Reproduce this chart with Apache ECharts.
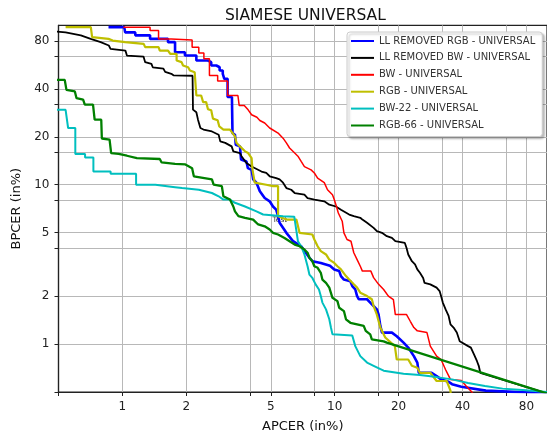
<!DOCTYPE html>
<html>
<head>
	<meta http-equiv="content-type" content="text/html;charset=utf-8">
	<title>SIAMESE UNIVERSAL</title>
	<style>
		html, body { margin:0; padding:0; background:#fff; }
		#chartcontainer { width:547px; height:438px; }
	</style>
	<script src="https://cdn.jsdelivr.net/npm/echarts@6/dist/echarts.min.js" type="text/javascript"></script>
</head>
<body>
<div id="chartcontainer"></div>
<script type="text/javascript">
	// series names (legend order)
	var seriesNames = ["LL REMOVED RGB - UNIVERSAL", "LL REMOVED BW - UNIVERSAL", "BW - UNIVERSAL",
		"RGB - UNIVERSAL", "BW-22 - UNIVERSAL", "RGB-66 - UNIVERSAL"];

	// tick values (in %)
	var labelTicks = [1, 2, 5, 10, 20, 40, 80];
	var gridTicks = [0.5, 1, 2, 4, 5, 8, 10, 16, 20, 32, 40, 64, 80];

	// [APCER, BPCER] points
	var llRgbPts = [[0.86,97.5],[1.02,97.5],[1.03,90.4],[1.15,90.4],[1.15,86.6],[1.35,86.6],[1.35,82.3],[1.64,82.3],
		[1.64,78.5],[1.77,78.5],[1.77,67.9],[1.97,67.9],[1.97,64.7],[2.23,64.7],[2.23,60.2],[2.53,60.2],[2.53,58.8],
		[2.62,58.8],[2.62,56],[2.77,56],[2.77,54.6],[2.87,54.6],[2.87,52.1],[2.97,52.1],[2.97,49.7],[3.02,49.7],
		[3.02,46.2],[3.13,46.2],[3.13,35.5],[3.28,35.5],[3.3,21.1],[3.39,20.6],[3.42,17.8],[3.58,17.4],[3.62,14.4],
		[3.84,14],[3.9,12.7],[4.06,12.4],[4.13,10.8],[4.28,10.3],[4.44,9.1],[4.68,8.25],[4.94,7.87],[5.12,7.3],
		[5.3,6.97],[5.41,6.35],[5.5,5.77],[5.92,4.99],[6.37,4.42],[6.95,4.11],[7.6,3.48],[7.85,3.31],[8.6,3.23],
		[8.7,3.16],[9.5,3.1],[9.95,2.94],[10.5,2.87],[10.7,2.67],[11.05,2.54],[11.85,2.48],[12.1,2.31],[12.5,2.2],
		[12.75,2.0],[13,1.91],[14.2,1.91],[14.7,1.82],[15.25,1.73],[15.8,1.65],[16.1,1.53],[16.4,1.3],[16.7,1.18],
		[18.6,1.18],[19.6,1.12],[21.1,1.02],[22.2,0.95],[23.6,0.84],[24.5,0.765],[24.9,0.66],[28.6,0.66],[30.2,0.63],
		[31.7,0.6],[34.4,0.58],[35.7,0.56],[39.5,0.54],[51.5,0.51],[100,0.49]];

	var llBwPts = [[0.48,91.7],[0.54,90.4],[0.55,88.3],[0.637,86.6],[0.649,84.4],[0.709,82.3],[0.722,80.3],[0.79,78.5],
		[0.804,76.6],[0.863,74.8],[0.879,71.3],[1.033,69.5],[1.05,64.7],[1.257,63.7],[1.28,58.8],[1.37,57.3],[1.39,54.6],
		[1.56,53.5],[1.59,51.1],[1.7,49.7],[1.74,48.6],[2.14,48.3],[2.15,29.6],[2.23,28.5],[2.27,25.6],[2.33,22.7],
		[2.41,22.2],[2.64,21.6],[2.84,20.6],[2.89,18.7],[3.05,18.3],[3.27,17.4],[3.33,16.2],[3.58,15.8],[3.64,15.1],
		[3.84,13.7],[4.06,13.0],[4.52,12.1],[4.76,11.85],[4.94,11.3],[5.3,11.0],[5.5,10.8],[5.71,10.3],[5.92,9.53],
		[6.24,9.3],[6.48,8.87],[7.2,8.66],[7.45,8.25],[8.02,8.07],[8.93,7.87],[9.43,7.5],[10.13,7.3],[10.7,6.97],
		[11.7,6.5],[12.3,6.35],[13.2,6.2],[13.5,6.04],[14.2,5.77],[15.25,5.36],[15.8,5.11],[16.7,4.99],[17.6,4.75],
		[18.6,4.64],[19.3,4.42],[21.4,4.31],[21.8,4.01],[22.2,3.65],[23.1,3.31],[23.9,3.16],[24.5,2.94],[25.2,2.8],
		[26.1,2.6],[26.5,2.42],[28.2,2.37],[30.2,2.26],[31.2,2.15],[31.7,2.0],[32.3,1.82],[33.3,1.65],[34.4,1.5],
		[35.1,1.33],[36.3,1.27],[37.6,1.18],[38.8,1.04],[42.5,0.97],[43.8,0.95],[45.3,0.86],[46.8,0.78],[47.7,0.73],
		[48.5,0.66],[100,0.49]];

	var bwPts = [[1.01,97.5],[1.35,97.5],[1.35,92.8],[1.48,92.8],[1.48,82.3],[1.7,82.3],[2.13,81.1],[2.13,73],[2.29,73],
		[2.29,67],[2.42,67],[2.42,61.7],[2.57,61.7],[2.57,48.5],[2.81,48.5],[2.81,44.7],[3.13,44.7],[3.13,36.3],
		[3.5,36.3],[3.55,31.4],[3.75,31.4],[3.91,29.5],[4.06,27.5],[4.3,26.5],[4.44,25.3],[4.68,24.4],[4.94,22.7],
		[5.41,21.1],[5.71,19.6],[5.92,18.3],[6.13,17],[6.48,15.8],[6.71,15.1],[6.95,14],[7.2,13],[7.74,12.4],
		[8.02,11.85],[8.31,11.0],[8.93,10.3],[9.25,9.3],[9.76,8.66],[9.95,8.07],[10.13,7.5],[10.4,6.65],[10.85,5.9],
		[11.05,4.99],[11.43,4.53],[11.93,4.42],[12.3,3.74],[12.75,3.39],[13.2,3.08],[13.5,2.87],[14.8,2.87],
		[15.25,2.61],[16.1,2.37],[17,2.2],[17.9,2.0],[18.9,1.9],[19.3,1.53],[21.8,1.53],[22.7,1.39],[23.6,1.27],
		[24.5,1.21],[27.2,1.18],[28.2,0.97],[30.2,0.84],[31.7,0.8],[33.3,0.69],[35.1,0.6],[39.5,0.59],[41.6,0.545],
		[43.8,0.507],[46,0.47]];

	var rgbPts = [[0.54,97.5],[0.71,97.5],[0.72,84.4],[0.86,82.3],[0.9,80.3],[1.03,78.5],[1.05,76.6],[1.26,76.6],
		[1.28,73],[1.48,73],[1.5,69.5],[1.64,69.5],[1.68,66.2],[1.8,66.2],[1.8,60.2],[1.9,58.8],[1.93,56],[2.04,54.6],
		[2.08,52.1],[2.19,50.8],[2.23,36.3],[2.35,36.3],[2.4,33],[2.48,33],[2.53,29.8],[2.62,29.3],[2.67,26],
		[2.81,25.4],[2.86,23.2],[2.99,22.2],[3.21,22.2],[3.39,20.1],[3.45,18.3],[3.58,17.4],[3.78,16.2],[3.91,15.8],
		[4.06,14.7],[4.1,12.4],[4.2,10.3],[4.76,10.0],[5.12,9.8],[5.41,9.8],[5.41,6.35],[5.92,6.04],[6.6,6.04],
		[6.83,4.99],[7.85,4.87],[8.02,4.53],[8.31,4.11],[8.6,3.83],[9.1,3.65],[9.43,3.39],[9.95,3.23],[10.3,3.08],
		[10.7,2.94],[11.3,2.67],[11.7,2.54],[12.3,2.37],[12.75,2.26],[13.2,2.1],[14.2,2.0],[14.96,1.91],[15.25,1.73],
		[15.8,1.53],[16.4,1.27],[17.3,1.1],[19.2,0.97],[19.6,0.8],[22.2,0.8],[23.1,0.73],[24.5,0.71],[25.2,0.66],
		[28.2,0.66],[30.2,0.586],[33.7,0.586],[35.1,0.51],[35.3,0.45]];

	var bw22Pts = [[0.48,29.5],[0.54,29.5],[0.555,22.7],[0.6,22.7],[0.6,15.6],[0.667,15.6],[0.667,14.8],[0.73,14.8],
		[0.73,12.1],[0.88,12.1],[0.88,11.7],[1.16,11.7],[1.16,10.0],[1.43,10.0],[1.43,9.8],[1.77,9.65],[1.91,9.53],
		[2.29,9.3],[2.64,8.87],[2.84,8.46],[2.99,8.07],[3.21,8.07],[3.39,7.7],[3.78,7.3],[4.28,6.8],[4.6,6.5],
		[5.71,6.35],[6.45,6.3],[6.55,5.5],[6.71,4.42],[6.95,4.11],[7.2,3.65],[7.45,3.08],[7.6,2.73],[7.85,2.6],
		[8.13,2.37],[8.43,2.2],[8.6,2.0],[8.75,1.82],[9.1,1.65],[9.43,1.43],[9.6,1.27],[9.76,1.15],[12.1,1.13],
		[12.5,0.97],[13.2,0.84],[14.2,0.765],[15.25,0.73],[17,0.68],[21.1,0.65],[25.2,0.64],[30.2,0.62],[35.7,0.6],
		[42.5,0.57],[51,0.545],[61.8,0.525],[76.7,0.515],[100,0.5]];

	var rgb66Pts = [[0.48,45.5],[0.535,45.5],[0.545,39.4],[0.597,38.5],[0.608,34.9],[0.653,34.2],[0.665,31.8],
		[0.727,31.8],[0.74,25.6],[0.795,25.6],[0.8,19.5],[0.87,19.2],[0.885,15.8],[0.96,15.6],[1.05,15.2],[1.17,14.7],
		[1.5,14.5],[1.53,13.8],[1.77,13.5],[1.98,13.4],[2.13,12.7],[2.17,11.3],[2.64,10.8],[2.69,10.0],[2.94,9.8],
		[2.99,8.46],[3.21,8.07],[3.33,7.3],[3.39,6.8],[3.52,6.35],[3.78,6.2],[4.13,6.04],[4.36,5.63],[4.68,5.48],
		[4.94,5.24],[5.12,4.99],[5.41,4.87],[5.8,4.63],[6.13,4.42],[6.48,4.21],[6.83,4.11],[7.2,3.92],[7.45,3.74],
		[7.6,3.48],[7.85,3.31],[8.02,3.08],[8.31,3.01],[8.6,2.8],[8.75,2.54],[9.1,2.42],[9.43,2.26],[9.76,1.95],
		[10.3,1.86],[10.5,1.69],[11.05,1.61],[11.3,1.43],[11.85,1.36],[12.75,1.33],[13.7,1.3],[14,1.21],[14.7,1.15],
		[14.96,1.07],[17,1.04],[17.6,1.02],[100,0.49]];

	// stray annotation left in the figure
	var noteText = "Test";
	var notePos = [[5.52, 6.04]];

	var allPts = [llRgbPts, llBwPts, bwPts, rgbPts, bw22Pts, rgb66Pts];
	var colors = ["#0000ff", "#000000", "#ff0000", "#bfbf00", "#00bfbf", "#008000"];
	var widths = [2.6, 1.8, 1.5, 2.2, 2.0, 2.3];

	function makeAxis(name, gap){
		return {
			type : 'log',
			logBase : 10,
			min : 0.5,
			max : 100,
			name : name,
			nameLocation : 'middle',
			nameGap : gap,
			nameTextStyle : { fontSize: 13, color: '#111', fontFamily: 'DejaVu Sans' },
			axisLine : { show: true, onZero: false, lineStyle: { color: '#222', width: 1.2 } },
			axisTick : { show: true, length: 4, customValues: gridTicks, lineStyle: { color: '#222', width: 1 } },
			axisLabel : {
				customValues: labelTicks,
				fontSize: 12,
				color: '#222',
				fontFamily: 'DejaVu Sans',
				margin: 9,
				formatter: function (v) { return String(v); }
			},
			splitLine : { show: true, lineStyle: { color: '#b8b8b8', width: 1 } }
		};
	}

	function echartInit(){
		var myChart = echarts.init(document.getElementById('chartcontainer'), null, { renderer: 'canvas' });

		var series = [];
		for (var i = 0; i < allPts.length; i++){
			series.push({
				name : seriesNames[i],
				type : 'line',
				data : allPts[i],
				symbol : 'none',
				showSymbol : false,
				clip : true,
				lineStyle : { color: colors[i], width: widths[i] },
				itemStyle : { color: colors[i] },
				z : 2 + i
			});
		}
		series.push({
			name : 'note',
			type : 'scatter',
			data : notePos,
			symbolSize : 0,
			silent : true,
			z : 1,
			label : {
				show: true,
				position: 'inside',
				formatter: noteText,
				fontSize: 7.5,
				color: '#000',
				fontFamily: 'DejaVu Sans'
			}
		});

		var option = {
			animation : false,
			backgroundColor : '#fff',
			title : {
				text : 'SIAMESE UNIVERSAL',
				left : 220,
				top : 3,
				textStyle : { fontSize: 15.5, fontWeight: 'normal', color: '#111', fontFamily: 'DejaVu Sans' }
			},
			grid : {
				left : 58.5,
				right : -4.6,
				top : 25.4,
				bottom : 45.3,
				show : true,
				borderColor : '#222',
				borderWidth : 1.2
			},
			legend : {
				data : seriesNames,
				orient : 'vertical',
				left : 347,
				top : 32,
				itemWidth : 23,
				itemHeight : 10,
				itemGap : 6.9,
				padding : [4, 7, 6, 3],
				backgroundColor : '#fff',
				borderColor : '#cccccc',
				borderWidth : 1,
				borderRadius : 3,
				shadowColor : 'rgba(0,0,0,0.25)',
				shadowBlur : 2,
				shadowOffsetX : 2,
				shadowOffsetY : 2,
				itemStyle : { opacity: 0 },
				textStyle : { fontSize: 10, color: '#333', fontFamily: 'DejaVu Sans' }
			},
			xAxis : makeAxis('APCER (in%)', 28),
			yAxis : makeAxis('BPCER (in%)', 33),
			series : series
		};
		myChart.setOption(option);
	}
	window.onload = echartInit;
</script>
</body>
</html>
